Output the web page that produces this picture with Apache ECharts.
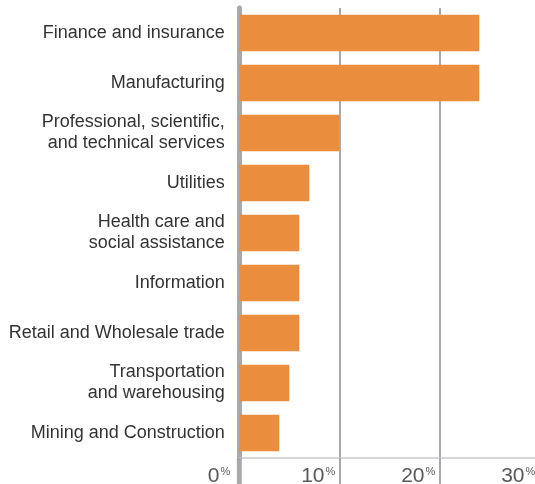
<!DOCTYPE html>
<html>
<head>
<meta charset="utf-8">
<script src="https://cdn.jsdelivr.net/npm/echarts@6/dist/echarts.min.js"></script>
<style>
  html, body { margin: 0; padding: 0; background: #fff; }
  #main { width: 535px; height: 484px; }
</style>
</head>
<body>
<div id="main"></div>
<script>
// industries, top to bottom
var categories = [
  'Finance and insurance',
  'Manufacturing',
  'Professional, scientific,\nand technical services',
  'Utilities',
  'Health care and\nsocial assistance',
  'Information',
  'Retail and Wholesale trade',
  'Transportation\nand warehousing',
  'Mining and Construction'
];
var shares = [24, 24, 10, 7, 6, 6, 6, 5, 4];
var tickValues = [0, 10, 20, 30];

var chartDom = document.getElementById('main');
var myChart = echarts.init(chartDom);
var option;

option = {
  backgroundColor: '#fff',
  animation: false,
  grid: { left: 239.3, top: 8, width: 300, height: 450, outerBoundsMode: 'none', containLabel: false },
  xAxis: {
    type: 'value',
    min: tickValues[0],
    max: tickValues[tickValues.length - 1],
    interval: 10,
    axisLine: { show: true, lineStyle: { color: '#c9cacc', width: 1.5 } },
    axisTick: { show: true, length: 26, lineStyle: { color: '#a7a9ac', width: 2 } },
    splitLine: { show: true, lineStyle: { color: '#a7a9ac', width: 2 } },
    axisLabel: {
      align: 'right',
      margin: 8,
      formatter: function (v) {
        return v === 0 ? '{n|0}{z|%}' : '{n|' + v + '}{p|%}';
      },
      rich: {
        n: { fontSize: 21, color: '#58595b', fontFamily: 'Liberation Sans' },
        p: { fontSize: 11, color: '#58595b', fontFamily: 'Liberation Sans', verticalAlign: 'top', padding: [0, 4, 0, 1] },
        z: { fontSize: 11, color: '#58595b', fontFamily: 'Liberation Sans', verticalAlign: 'top', padding: [0, 9, 0, 1] }
      }
    }
  },
  yAxis: {
    type: 'category',
    inverse: true,
    data: categories,
    offset: 2.5,
    axisLine: {
      show: true,
      symbol: ['rect', 'none'],
      symbolSize: [5, 52],
      symbolOffset: [-26, 0],
      lineStyle: { color: '#a7a9ac', width: 5 }
    },
    axisTick: { show: false },
    axisLabel: {
      margin: 12,
      fontSize: 18,
      lineHeight: 21,
      color: '#333',
      fontFamily: 'Liberation Sans'
    }
  },
  series: [
    {
      type: 'bar',
      data: shares,
      barCategoryGap: '26.7%',
      itemStyle: { color: '#EA8D3D' }
    }
  ]
};
option && myChart.setOption(option);
</script>
</body>
</html>
